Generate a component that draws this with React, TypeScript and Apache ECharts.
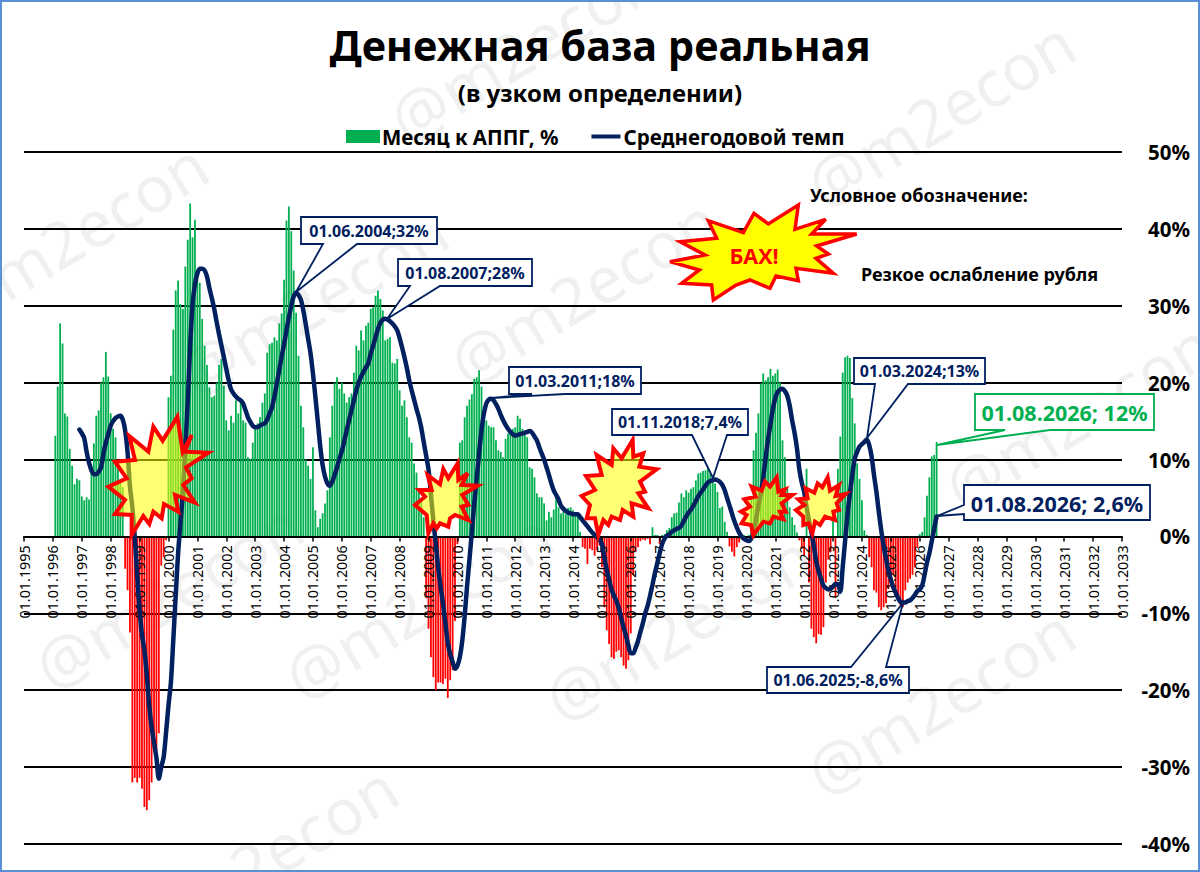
import React, { useEffect, useRef } from "react";
import * as echarts from "echarts";

const FONT = '"Noto Sans", "DejaVu Sans", sans-serif';
const NAVY = "#002060";
const GREEN = "#00B050";
const RED = "#FF0000";

const firstYear = 1995;
const lastYear = 2033;
const categories: string[] = [];
for (let y = firstYear; y <= lastYear; y++) {
  for (let m = 1; m <= 12; m++) {
    if (y === lastYear && m > 1) break;
    categories.push(`01.${String(m).padStart(2, "0")}.${y}`);
  }
}

// Месяц к АППГ, %: monthly values, one row per year (1996 starts in February)
const bars1996 = [13.1, 19.5, 27.7, 25.1, 16, 15.6, 11.4, 9.2, 6.8, 7.5, 7.3];
const bars1997 = [5.2, 4.7, 5.1, 4.8, 8.2, 12.1, 15.7, 16.4, 20, 20.7, 24, 20.8];
const bars1998 = [16, 14, 12.9, 9.9, 6.9, 6.4, -4.2, -7, -12.5, -32, -31.4, -32];
const bars1999 = [-31.4, -32.8, -35.2, -35.6, -34.3, -32, -27.8, -27.8, -25.6, -3.8, -2.7, -0.5];
const bars2000 = [18.1, 20.9, 26.9, 32, 33.3, 30.2, 29.6, 35.1, 38.6, 43.3, 38.9, 41.2];
const bars2001 = [33.5, 33, 28.3, 24.8, 22.3, 19.4, 18.1, 18.3, 20, 22.3, 23.1, 19.6];
const bars2002 = [15.1, 13.8, 15.7, 14.8, 17.7, 16, 17.9, 15.1, 14.8, 10.3, 10.1, 12.2];
const bars2003 = [14, 14.7, 15.5, 17.4, 18.6, 23.9, 25, 25.2, 25.9, 25.5, 27.7, 29];
const bars2004 = [33.4, 41.1, 42.9, 39.7, 34.6, 29.1, 23.5, 17, 14.2, 10, 9.2, 7.5];
const bars2005 = [11.6, 3.4, 1.2, 2.3, 3, 4.3, 6, 12.9, 17, 20, 20.7, 19.2];
const bars2006 = [20, 18.6, 17.4, 18.1, 18.6, 21.3, 24.8, 24.2, 26.8, 25.5, 27.4, 27.8];
const bars2007 = [29.6, 29.8, 31.3, 32, 30.9, 29.4, 25.5, 25.7, 25.9, 22.6, 22.5, 23.1];
const bars2008 = [19, 17, 17.7, 15.5, 12.9, 12.2, 9.5, 8.3, 6, 4.5, 2.5, -8];
const bars2009 = [-12, -15.7, -18.3, -20, -19, -19, -19.2, -18.5, -21, -18.7, -17.4, -11];
const bars2010 = [-1, 12.2, 12.5, 15.5, 17, 17.8, 18.5, 20.5, 20.7, 21.6, 19.5, 15.1];
const bars2011 = [15.1, 14.4, 14.2, 14.2, 12.5, 11.2, 11, 10.3, 12.7, 13.4, 13.8, 14];
const bars2012 = [14.2, 15.7, 15.3, 14, 13.4, 12.9, 9, 8.8, 7.7, 5.6, 5.1, 5.1];
const bars2013 = [4.3, 2.1, 3.2, 2.5, 3.5, 5, 3.8, 3, 3.2, 2.9, 3.7, 3.8];
const bars2014 = [3.4, 2.8, 2.8, 0.6, -1.4, -1.6, -3.6, -1.6, -1.8, -2.5, -1.8, -1.2];
const bars2015 = [-4, -9.2, -12.2, -14, -15.7, -15.9, -15, -14.8, -15.7, -16.8, -17.2, -16.1];
const bars2016 = [-12.6, -5, -2, -1.4, -0.6, -0.4, -0.5, -0.3, -1, 1.2, 0.2, 0.2];
const bars2017 = [-1, 0.2, 0.3, 0.8, 1.1, 2.5, 3, 3.1, 4.4, 5.6, 5.1, 6];
const bars2018 = [5.7, 6.2, 6.4, 7.3, 8.2, 8.3, 8.5, 8.6, 8.8, 8.2, 7.5, 6.9];
const bars2019 = [5.8, 3.7, 3.9, 1.9, 0.6, -1.3, -2, -2.6, -1.4, -0.8, -0.4, 0.2];
const bars2020 = [-0.2, 0.2, 5, 11.2, 13.5, 16, 19.9, 21.2, 20.3, 20.7, 21.8, 20.9];
const bars2021 = [21.2, 21.7, 20, 12.5, 10.3, 6.3, 3.8, 2.5, 1.5, 0.5, -0.5, -1.6];
const bars2022 = [-2.5, 8.8, -6, -12, -13.1, -13.9, -12.7, -12.8, -11.8, -6, -3, -2];
const bars2023 = [2, -8, 8.8, 13, 21.3, 23.3, 23.5, 23.2, 18, 14.7, 9.5, 7.5];
const bars2024 = [4.7, 0.8, 0.2, -2.7, -4, -7, -7.3, -9.2, -9.6, -9.2, -8.7, -6.8];
const bars2025 = [-6, -5, -7.2, -8, -9.5, -9.2, -7, -6, -5.5, -5, -4, -1.5];
const bars2026 = [0.3, 0.6, 2.5, 5.3, 7.7, 10.4, 10.6, 12.3];

// Среднегодовой темп: monthly values (starts December 1996)
const line1996 = [13.9];
const line1997 = [13.4, 12.8, 11, 9.6, 8.6, 8.1, 8.1, 8.4, 9, 10.8, 12.2, 13.3];
const line1998 = [14.4, 15, 15.4, 15.6, 15.7, 15.2, 13.8, 11, 6.5, 3.8, -0.1, -5];
const line1999 = [-9.5, -12.8, -14.8, -18, -22, -24.8, -26.8, -28.8, -31.5, -30, -28.7, -25.5];
const line2000 = [-22, -19, -13.5, -7.7, -2.2, 1.8, 5.8, 11.5, 17.5, 24.8, 30.2, 32.8];
const line2001 = [34.2, 34.8, 34.8, 34.6, 33.8, 32.3, 31, 29.6, 27.9, 26.3, 24.8, 23.3];
const line2002 = [21.8, 20.3, 19.1, 18.6, 18.2, 17.9, 17.7, 17.3, 16.4, 15.5, 14.9, 14.4];
const line2003 = [14.2, 14.2, 14.4, 14.6, 14.7, 15.2, 16, 16.8, 18.2, 19.9, 21.6, 23.4];
const line2004 = [25, 26.8, 28.5, 30, 31.2, 31.7, 31.4, 30.8, 29.4, 27.6, 25.7, 23.8];
const line2005 = [21.2, 18.2, 15, 11.8, 9.3, 7.8, 6.9, 6.6, 7.1, 8, 9, 10.1];
const line2006 = [11.1, 12.4, 13.8, 15.1, 16.4, 17.7, 19, 20, 20.8, 21.4, 22, 22.5];
const line2007 = [23.8, 24.8, 25.9, 27, 27.8, 28.2, 28.3, 28.2, 28, 27.7, 27.3, 26.8];
const line2008 = [25.8, 24.6, 23.3, 21.9, 20.3, 19, 17.8, 16.6, 15.5, 14.1, 12.3, 10.5];
const line2009 = [8.7, 5.5, 2, -0.9, -4, -6.5, -8.7, -11.3, -13.8, -15.3, -16.3, -17.2];
const line2010 = [-16.8, -15.7, -13.6, -10.4, -6.5, -3, 0.6, 4.3, 7.5, 10.8, 13.8, 16];
const line2011 = [17.3, 17.8, 17.9, 17.7, 17.2, 16.6, 15.8, 15.1, 14.5, 14, 13.6, 13.3];
const line2012 = [13.1, 13.2, 13.3, 13.4, 13.5, 13.6, 13.7, 13.5, 13, 12.5, 11.6, 10.8];
const line2013 = [10, 9, 8, 6.9, 6, 5.4, 4.8, 4, 3.6, 3.3, 3.1, 3];
const line2014 = [2.9, 2.9, 2.9, 2.5, 2.1, 1.7, 1.3, 0.9, 0.5, 0.2, -0.1, -0.4];
const line2015 = [-1, -2.7, -4.3, -5.6, -6.9, -7.7, -8.4, -9.3, -10.6, -11.8, -12.9, -14.2];
const line2016 = [-15.2, -15.2, -14.5, -13.6, -12.4, -11.3, -10, -9, -7.7, -6.3, -4.8, -3.5];
const line2017 = [-2.2, -1, -0.3, 0.1, 0.3, 0.6, 0.8, 1, 1.1, 1.4, 2, 2.6];
const line2018 = [3.1, 3.5, 4, 4.6, 5.2, 5.7, 6.1, 6.6, 7, 7.2, 7.3, 7.4];
const line2019 = [7.3, 7.1, 6.7, 6, 5, 4, 3, 2, 1.2, 0.5, 0, -0.3];
const line2020 = [-0.5, -0.6, -0.3, 0.6, 2.2, 4, 5.6, 7.6, 10.2, 12.6, 14.6, 16.6];
const line2021 = [18, 18.8, 19.1, 19.2, 18.9, 18.3, 17, 15.1, 13.5, 11.5, 8.7, 7];
const line2022 = [5.8, 3.8, 2.1, 0.6, -1.2, -3.2, -4.5, -5.5, -6.4, -6.7, -6.9, -6.8];
const line2023 = [-6.5, -6.2, -6.2, -7.2, -4, -0.6, 2.8, 5.6, 8, 10.1, 11, 11.7];
const line2024 = [12, 12.3, 12.6, 11.9, 10.4, 8, 5.8, 3.2, 0.8, -1.2, -2.9, -4.4];
const line2025 = [-5.6, -6.6, -7.3, -8, -8.5, -8.6, -8.6, -8.4, -8.3, -8, -7.6, -7.1];
const line2026 = [-6.9, -6.4, -5, -3.4, -2.2, -0.6, 1, 2.6];

const barValues: (number | null)[] = [
  ...new Array(13).fill(null),
  ...bars1996, ...bars1997, ...bars1998, ...bars1999, ...bars2000, ...bars2001, ...bars2002,
  ...bars2003, ...bars2004, ...bars2005, ...bars2006, ...bars2007, ...bars2008, ...bars2009,
  ...bars2010, ...bars2011, ...bars2012, ...bars2013, ...bars2014, ...bars2015, ...bars2016,
  ...bars2017, ...bars2018, ...bars2019, ...bars2020, ...bars2021, ...bars2022, ...bars2023,
  ...bars2024, ...bars2025, ...bars2026,
];
const lineValues: (number | null)[] = [
  ...new Array(23).fill(null),
  ...line1996, ...line1997, ...line1998, ...line1999, ...line2000, ...line2001, ...line2002,
  ...line2003, ...line2004, ...line2005, ...line2006, ...line2007, ...line2008, ...line2009,
  ...line2010, ...line2011, ...line2012, ...line2013, ...line2014, ...line2015, ...line2016,
  ...line2017, ...line2018, ...line2019, ...line2020, ...line2021, ...line2022, ...line2023,
  ...line2024, ...line2025, ...line2026,
];

const WATERMARK = "@m2econ";
const wmStarts: [number, number][] = [
  [-55, 312], [395, 125], [185, 378], [455, 368], [812, 190], [40, 672],
  [290, 682], [550, 704], [812, 778], [135, 935], [950, 492],
];

// burst outlines: [origin x, origin y, points in 3x crop coordinates]
const bursts: { ox: number; oy: number; pts: number[][] }[] = [
  { ox: 100, oy: 410, pts: [[88,78],[145,125],[160,50],[188,92],[232,20],[248,125],[275,75],[255,125],[325,128],[258,172],[275,205],[250,225],[285,278],[225,255],[235,305],[192,282],[185,325],[160,305],[148,342],[130,318],[95,375],[95,315],[45,312],[75,270],[25,230],[80,205],[45,155],[105,150]] },
  { ox: 405, oy: 455, pts: [[68,60],[105,88],[115,42],[130,70],[158,25],[160,75],[188,55],[170,90],[218,92],[172,120],[190,150],[170,155],[190,195],[150,180],[135,190],[130,215],[105,205],[95,220],[85,205],[70,235],[65,180],[30,150],[60,125],[42,105],[80,105]] },
  { ox: 570, oy: 440, pts: [[80,45],[125,75],[130,25],[155,55],[188,0],[190,50],[220,40],[208,80],[260,88],[210,125],[225,155],[205,160],[235,205],[185,190],[190,230],[158,210],[150,240],[125,230],[115,255],[100,240],[85,285],[75,235],[50,235],[60,195],[35,168],[75,150],[48,108],[95,105]] },
  { ox: 735, oy: 470, pts: [[50,50],[80,62],[90,35],[105,50],[125,22],[130,65],[150,58],[140,75],[172,75],[140,100],[152,125],[135,125],[145,148],[115,140],[105,160],[85,155],[70,175],[55,195],[48,165],[20,160],[35,135],[18,125],[45,110],[28,88],[62,80]] },
  { ox: 735, oy: 470, pts: [[212,55],[238,68],[248,40],[262,52],[278,22],[285,62],[312,45],[302,78],[332,72],[305,100],[312,120],[295,125],[300,150],[270,140],[255,165],[240,155],[232,190],[220,160],[205,165],[205,140],[183,120],[208,105],[190,88],[218,85]] },
];
const bangPts = [[282,70],[325,102],[415,45],[405,118],[497,88],[455,132],[590,132],[470,168],[505,192],[468,205],[520,250],[408,235],[415,272],[348,258],[330,295],[270,270],[228,285],[160,330],[155,285],[65,280],[118,240],[30,215],[135,195],[60,155],[170,145],[145,92],[250,128]];

// callouts: box, pointer base and tip in page pixels
const callouts = [
  { text: "01.06.2004;32%", box: [301, 217, 437, 244], base: [[357, 244], [323, 244]], tip: [296, 292], color: NAVY, size: 16 },
  { text: "01.08.2007;28%", box: [398, 259, 532, 286], base: [[440, 286], [410, 286]], tip: [387, 319], color: NAVY, size: 16 },
  { text: "01.03.2011;18%", box: [509, 367, 641, 394], base: [[565, 394], [532, 394]], tip: [492, 398], color: NAVY, size: 16 },
  { text: "01.11.2018;7,4%", box: [612, 409, 748, 435], base: [[727, 435], [692, 435]], tip: [713, 478], color: NAVY, size: 16 },
  { text: "01.03.2024;13%", box: [854, 358, 985, 384], base: [[908, 384], [875, 384]], tip: [867, 438], color: NAVY, size: 16 },
  { text: "01.08.2026; 12%", box: [975, 394, 1154, 430], base: [[1050, 430], [1005, 430]], tip: [937, 445], color: GREEN, size: 21.5 },
  { text: "01.06.2025;-8,6%", box: [767, 667, 909, 693], base: [[851, 667], [886, 667]], tip: [903, 603], color: NAVY, size: 16 },
];

function calloutPoints(c: (typeof callouts)[number]) {
  const [x0, y0, x1, y1] = c.box;
  const b = c.base;
  if (b[0][1] === y0) {
    return [[x0, y0], b[0], c.tip, b[1], [x1, y0], [x1, y1], [x0, y1]];
  }
  return [[x0, y0], [x1, y0], [x1, y1], b[0], c.tip, b[1], [x0, y1]];
}

export default function App() {
  const ref = useRef<HTMLDivElement>(null);
  useEffect(() => {
    document.body.style.margin = "0";
    const chart = echarts.init(ref.current!, undefined, { renderer: "svg" });
    const graphics: any[] = [];
    wmStarts.forEach(([x, y]) => {
      graphics.push({
        type: "text", x, y, rotation: (31 * Math.PI) / 180, z: -10, silent: true,
        style: { text: WATERMARK, fill: "#F0F0F0", font: `64px ${FONT}`, textAlign: "left", textVerticalAlign: "middle" },
      });
    });
    bursts.forEach((b) => {
      graphics.push({
        type: "polygon", z: 20,
        shape: { points: b.pts.map(([a, c]) => [b.ox + a / 3, b.oy + c / 3]) },
        style: { fill: "rgba(255,255,0,0.55)", stroke: RED, lineWidth: 4, lineJoin: "miter" },
      });
    });
    graphics.push({
      type: "polygon", z: 20,
      shape: { points: bangPts.map(([a, c]) => [660 + a / 3, 190 + c / 3]) },
      style: { fill: "#FFFF00", stroke: RED, lineWidth: 3.5, lineJoin: "miter" },
    });
    graphics.push({
      type: "text", x: 754, y: 255, z: 21,
      style: { text: "БАХ!", fill: RED, font: `bold 21.5px ${FONT}`, textAlign: "center", textVerticalAlign: "middle" },
    });
    graphics.push({
      type: "text", x: 810, y: 195, z: 21,
      style: { text: "Условное обозначение:", fill: "#000", font: `bold 18px ${FONT}`, textAlign: "left", textVerticalAlign: "middle" },
    });
    graphics.push({
      type: "text", x: 861, y: 274, z: 21,
      style: { text: "Резкое ослабление рубля", fill: "#000", font: `bold 18px ${FONT}`, textAlign: "left", textVerticalAlign: "middle" },
    });
    callouts.forEach((c) => {
      graphics.push({
        type: "polygon", z: 22,
        shape: { points: calloutPoints(c) },
        style: { fill: "#fff", stroke: c.color, lineWidth: 1.8 },
      });
      graphics.push({
        type: "text", x: (c.box[0] + c.box[2]) / 2, y: (c.box[1] + c.box[3]) / 2, z: 24,
        style: { text: c.text, fill: c.color, font: `bold ${c.size}px ${FONT}`, textAlign: "center", textVerticalAlign: "middle" },
      });
    });
    // the last label has a side pointer
    graphics.push({
      type: "polygon", z: 22,
      shape: { points: [[964, 485], [1150, 485], [1150, 520], [964, 520], [964, 514], [937, 516], [964, 505]] },
      style: { fill: "#fff", stroke: NAVY, lineWidth: 1.8 },
    });
    graphics.push({
      type: "text", x: 1057, y: 503, z: 24,
      style: { text: "01.08.2026; 2,6%", fill: NAVY, font: `bold 21.5px ${FONT}`, textAlign: "center", textVerticalAlign: "middle" },
    });
    // picture frame
    graphics.push({
      type: "rect", z: 30, silent: true,
      shape: { x: 1, y: 1, width: 1198, height: 870 },
      style: { fill: "none", stroke: "#5B8FD6", lineWidth: 2 },
    });

    chart.setOption({
      animation: false,
      backgroundColor: "#fff",
      textStyle: { fontFamily: FONT },
      title: {
        text: "Денежная база реальная",
        subtext: "(в узком определении)",
        left: "center",
        top: 19,
        itemGap: 14,
        textStyle: { fontFamily: FONT, fontSize: 41.5, fontWeight: "bold", color: "#000" },
        subtextStyle: { fontFamily: FONT, fontSize: 24, fontWeight: "bold", color: "#000" },
      },
      legend: {
        top: 126,
        left: 346,
        itemWidth: 34,
        itemHeight: 13,
        itemGap: 30,
        padding: 0,
        textStyle: { fontFamily: FONT, fontSize: 20.5, fontWeight: "bold", color: "#000", padding: [0, 0, 0, -3] },
        data: [
          { name: "Месяц к АППГ, %", icon: "rect" },
          { name: "Среднегодовой темп", icon: "path://M0 0L.01 0L0 .01ZM3 4.5H32V8.5H3ZM0 13L.01 13L0 12.99Z" },
        ],
      },
      grid: { left: 24, right: 78, top: 152, bottom: 28, outerBoundsMode: "none" },
      xAxis: {
        type: "category",
        data: categories,
        boundaryGap: false,
        offset: -307.6,
        z: 5,
        axisLine: { onZero: false, lineStyle: { color: "#000", width: 2 } },
        axisTick: { show: true, length: 5, interval: (i: number) => i % 12 === 0, lineStyle: { color: "#000", width: 1.5 } },
        axisLabel: {
          rotate: 90, margin: 9, interval: (i: number) => i % 12 === 0,
          fontFamily: "Noto Sans", fontSize: 14.3, color: "#000", hideOverlap: false,
        },
        splitLine: { show: false },
      },
      yAxis: {
        type: "value",
        position: "right",
        min: -40,
        max: 50,
        interval: 10,
        axisLine: { show: false },
        axisTick: { show: false },
        splitLine: { show: true, lineStyle: { color: "#000", width: 2 } },
        axisLabel: {
          margin: 68, align: "right", fontFamily: FONT, fontSize: 20.5, fontWeight: "bold", color: "#000",
          formatter: (v: number) => `${v}%`,
        },
      },
      series: [
        {
          name: "Месяц к АППГ, %",
          type: "bar",
          barWidth: 1.8,
          itemStyle: { color: GREEN },
          data: barValues.map((v) =>
            v !== null && v < 0 ? { value: v, itemStyle: { color: RED } } : v
          ),
          z: 2,
        },
        {
          name: "Среднегодовой темп",
          type: "line",
          data: lineValues,
          smooth: 0.3,
          showSymbol: false,
          symbol: "none",
          lineStyle: { color: NAVY, width: 4.5, cap: "round" },
          itemStyle: { color: NAVY },
          z: 6,
        },
      ],
      graphic: { elements: graphics },
    });
    return () => chart.dispose();
  }, []);
  return (
    <div
      ref={ref}
      style={{ position: "absolute", left: 0, top: 0, width: 1200, height: 872, overflow: "hidden" }}
    />
  );
}
